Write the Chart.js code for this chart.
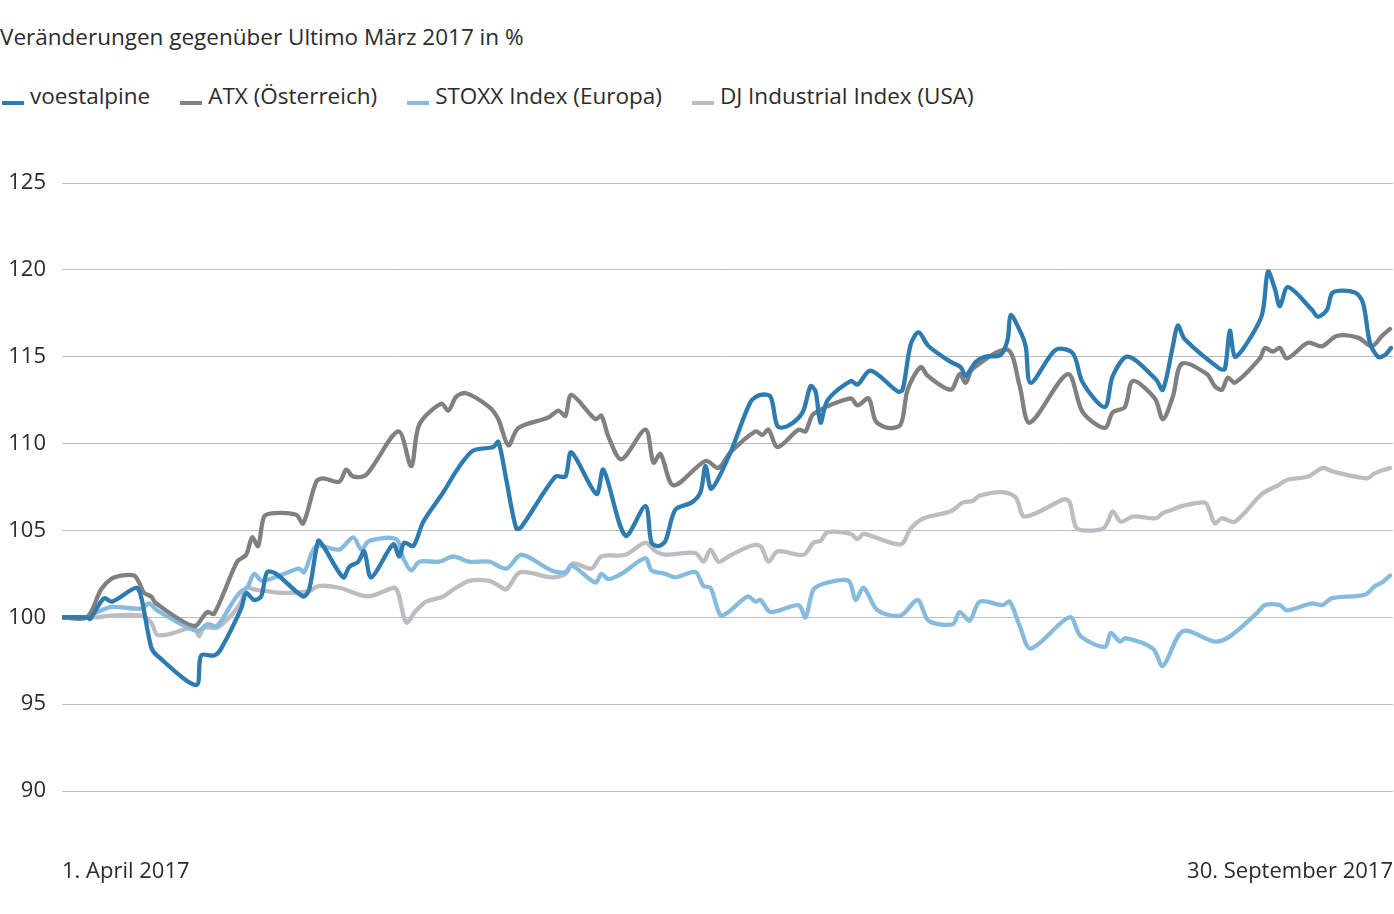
<!DOCTYPE html>
<html lang="de">
<head>
<meta charset="utf-8">
<script src="https://cdn.jsdelivr.net/npm/chart.js@4.4.1/dist/chart.umd.min.js"></script>
<style>
  html, body { margin: 0; padding: 0; background: #fff; }
  #wrap { position: relative; width: 1394px; height: 914px; overflow: hidden; font-family: "Open Sans", "Noto Sans", sans-serif; color: #2b2b2b; }
  #title { position: absolute; left: 0; top: 22px; font-size: 22.5px; line-height: 30px; white-space: nowrap; }
  #legend { position: absolute; left: 2px; top: 81px; display: flex; gap: 30px; font-size: 22.5px; line-height: 30px; white-space: nowrap; }
  .item { display: flex; align-items: flex-end; }
  .mark { display: inline-block; width: 22px; height: 4px; margin-right: 6px; margin-bottom: 6px; }
  canvas { position: absolute; left: 0; top: 0; }
</style>
</head>
<body>
<div id="wrap">
  <div id="title"></div>
  <div id="legend"></div>
  <canvas id="c" width="1394" height="914"></canvas>
</div>
<script>
// ---- Data (x = trading-day index, 0 = 1. April 2017, 133 = 30. September 2017) ----
const titleText = "Veränderungen gegenüber Ultimo März 2017 in %";
const seriesNames = ["voestalpine", "ATX (Österreich)", "STOXX Index (Europa)", "DJ Industrial Index (USA)"];
const seriesColors = ["#2e7bb0", "#808083", "#86bbde", "#bdbdc1"];
const xTickLabels = ["1. April 2017", "30. September 2017"];
const yTicks = [90, 95, 100, 105, 110, 115, 120, 125];

const voestDay = [0,2.5,2.8,4.2,5.0,7.4,7.9,8.9,9.5,13.4,13.9,15.2,15.9,17.9,18.4,19.2,19.9,20.5,21.4,24.1,24.7,25.6,26.1,28.1,28.7,29.6,30.2,30.9,33.1,33.7,34.2,35.1,36.1,38.1,39.6,41.1,43.1,43.6,44.4,45.4,45.9,49.3,50.3,50.9,53.4,54.1,56.3,58.3,58.9,59.6,60.3,61.3,62.9,63.8,64.3,64.9,66.8,68.8,69.8,70.8,71.5,72.5,74.0,74.8,75.3,75.8,76.5,78.8,79.5,80.8,83.5,84.0,84.8,85.6,86.6,88.8,89.8,90.3,91.3,92.2,93.8,94.5,94.8,95.8,96.3,96.8,99.3,101.0,102.0,104.2,105.0,106.5,109.3,110.0,111.0,111.5,112.2,115.7,116.2,116.7,117.2,118.2,119.9,120.5,121.2,121.7,122.5,124.9,125.5,126.4,127.0,129.2,130.0,130.7,131.5,132.2,132.8];
const voestValue = [100.0,100.0,99.9,101.1,100.9,101.7,101.2,98.3,97.8,96.1,97.8,97.8,98.2,100.5,101.4,101.0,101.2,102.6,102.5,101.2,101.6,104.4,104.1,102.3,102.9,103.2,103.8,102.3,104.2,103.5,104.3,104.1,105.5,107.2,108.6,109.6,109.8,110.1,107.9,105.1,105.2,108.1,108.1,109.5,107.1,108.5,104.7,106.4,104.3,104.1,104.4,106.2,106.6,107.2,108.7,107.4,109.5,112.4,112.8,112.7,111.0,111.0,111.8,113.3,113.0,111.2,112.5,113.6,113.4,114.2,113.0,113.1,115.7,116.4,115.6,114.7,114.4,113.9,114.7,115.0,115.1,116.0,117.4,116.4,115.6,113.5,115.4,115.2,113.5,112.1,113.9,115.0,113.7,113.1,115.6,116.8,116.0,114.3,114.3,116.5,115.0,115.6,117.4,119.9,118.9,117.9,119.0,117.7,117.3,117.7,118.7,118.7,118.1,115.8,115.0,115.1,115.5];

const atxDay = [0,2.5,3.9,4.9,5.9,7.2,7.7,8.2,8.9,9.4,13.2,14.5,15.2,17.5,18.4,19.0,19.6,20.2,21.2,23.4,24.1,25.4,26.1,27.7,28.4,29.1,30.4,33.6,34.9,35.7,37.9,38.6,39.4,40.4,42.7,43.6,44.6,45.6,48.6,49.6,50.3,50.9,53.3,53.9,54.6,55.9,58.3,59.1,59.8,61.1,64.3,65.6,66.8,69.3,70.0,70.6,71.5,73.6,74.3,75.1,78.8,79.5,80.6,81.3,82.5,83.8,84.5,85.8,86.5,88.8,89.7,90.3,91.0,94.5,95.7,96.7,100.5,102.0,104.2,105.0,106.2,107.0,109.2,110.0,111.0,111.9,114.4,115.2,115.9,116.5,117.2,119.7,120.2,121.0,121.7,122.4,124.5,125.9,127.4,129.5,130.9,131.9,132.7];
const atxValue = [100.0,100.0,101.6,102.2,102.4,102.4,102.0,101.4,101.2,100.8,99.5,100.3,100.2,103.2,103.6,104.6,104.1,105.8,106.0,105.9,105.4,107.8,108.0,107.8,108.5,108.1,108.2,110.7,108.7,111.1,112.3,111.9,112.7,112.9,112.1,111.4,109.9,110.9,111.5,111.9,111.6,112.8,111.4,111.6,110.4,109.1,110.8,108.9,109.4,107.6,109.0,108.6,109.5,110.7,110.5,110.8,109.8,110.8,110.7,111.7,112.6,112.2,112.6,111.3,110.9,111.1,113.1,114.4,113.9,113.1,114.0,113.5,114.3,115.4,113.3,111.2,114.0,111.8,110.9,111.8,112.1,113.6,112.6,111.4,112.7,114.6,114.0,113.3,113.1,113.8,113.5,114.9,115.5,115.3,115.5,114.9,115.8,115.6,116.2,116.1,115.6,116.2,116.6];

const stoxxDay = [0,2.4,3.5,5.0,7.9,8.7,9.5,13.5,14.5,15.5,17.2,17.9,18.5,19.2,20.0,22.2,23.7,24.2,25.4,27.7,29.1,29.9,30.7,33.4,34.1,34.9,35.7,37.7,39.1,40.7,42.7,44.4,45.9,48.9,50.3,50.9,53.3,53.9,54.6,55.9,58.3,58.9,60.3,61.3,63.3,64.1,64.8,65.8,66.6,68.5,69.3,69.8,70.8,73.6,74.3,75.1,76.5,78.6,79.3,80.1,81.5,83.8,85.5,86.6,89.0,89.7,90.7,91.7,94.0,94.7,95.7,96.8,100.7,101.8,104.2,104.8,105.7,106.3,109.0,110.0,112.0,115.2,116.7,119.5,120.2,121.7,122.4,124.9,125.9,126.9,130.2,131.2,131.9,132.7];
const stoxxValue = [100.0,100.0,100.3,100.6,100.5,100.8,100.4,99.2,99.6,99.5,101.0,101.5,101.7,102.5,102.1,102.5,102.8,102.6,104.1,103.9,104.6,103.9,104.4,104.5,103.4,102.7,103.2,103.2,103.5,103.2,103.2,102.8,103.6,102.7,102.6,103.0,102.0,102.5,102.2,102.5,103.4,102.7,102.5,102.3,102.6,101.8,101.7,100.1,100.3,101.2,100.9,101.0,100.3,100.7,100.0,101.6,102.0,102.1,101.0,101.7,100.4,100.1,101.0,99.8,99.6,100.3,99.8,100.9,100.7,100.9,99.5,98.2,100.0,98.9,98.3,99.1,98.6,98.8,98.2,97.2,99.2,98.6,98.9,100.3,100.7,100.7,100.4,100.8,100.7,101.1,101.3,101.8,102.0,102.4];

const djDay = [0,3.5,4.9,7.9,8.9,9.5,10.5,13.2,13.7,14.2,15.5,16.9,17.9,18.4,19.2,20.5,22.2,24.7,25.6,27.7,30.6,33.2,33.6,34.4,35.4,36.4,38.1,39.1,40.7,42.7,43.7,44.4,45.8,48.9,50.3,51.1,52.9,53.9,56.3,58.3,59.3,60.3,63.3,64.1,64.8,65.6,66.6,68.8,69.8,70.6,71.5,74.1,75.1,75.8,76.5,78.8,79.5,80.1,83.8,84.8,86.1,88.8,90.0,91.0,91.7,94.0,95.3,96.2,100.2,100.7,101.3,102.0,104.0,104.5,105.0,105.8,107.0,109.3,110.0,111.0,111.9,114.2,114.7,115.2,115.9,117.2,119.9,121.5,122.4,124.5,126.0,126.9,130.4,131.2,132.7];
const djValue = [100.0,100.0,100.1,100.1,99.7,99.0,99.0,99.4,98.9,99.4,99.4,100.1,100.9,101.7,101.6,101.5,101.4,101.5,101.8,101.7,101.2,101.7,101.4,99.7,100.4,100.9,101.2,101.6,102.1,102.1,101.8,101.6,102.6,102.3,102.5,103.1,102.8,103.5,103.6,104.3,103.8,103.6,103.7,103.2,103.9,103.2,103.5,104.1,104.1,103.2,103.8,103.6,104.3,104.4,104.9,104.8,104.5,104.8,104.2,105.1,105.7,106.1,106.6,106.7,107.0,107.2,106.9,105.8,106.8,106.6,105.2,105.0,105.1,105.5,106.1,105.5,105.8,105.7,106.0,106.2,106.4,106.6,106.1,105.4,105.7,105.5,107.1,107.6,107.9,108.1,108.6,108.4,108.0,108.3,108.6];

const seriesDays = [voestDay, atxDay, stoxxDay, djDay];
const seriesValues = [voestValue, atxValue, stoxxValue, djValue];

// ---- Title & legend (HTML text) ----
document.getElementById('title').textContent = titleText;
const leg = document.getElementById('legend');
seriesNames.forEach((n, i) => {
  const it = document.createElement('div'); it.className = 'item';
  const m = document.createElement('span'); m.className = 'mark'; m.style.background = seriesColors[i];
  const t = document.createElement('span'); t.textContent = n;
  it.appendChild(m); it.appendChild(t); leg.appendChild(it);
});

// ---- Chart ----
const datasets = seriesNames.map((n, i) => ({
  label: n,
  data: seriesDays[i].map((d, k) => ({ x: d, y: seriesValues[i][k] })),
  borderColor: seriesColors[i],
  backgroundColor: seriesColors[i],
  borderWidth: 4.3,
  pointRadius: 0,
  tension: 0.3,
  fill: false,
  borderCapStyle: 'round',
  borderJoinStyle: 'round'
}));

new Chart(document.getElementById('c'), {
  type: 'line',
  data: { datasets },
  options: {
    responsive: false,
    animation: false,
    layout: { padding: { top: 183, right: 1, left: 0, bottom: 0 } },
    plugins: { legend: { display: false }, title: { display: false }, tooltip: { enabled: false } },
    scales: {
      x: {
        type: 'linear', min: 0, max: 133,
        grid: { display: false, drawTicks: false },
        border: { display: false },
        afterBuildTicks: (s) => { s.ticks = [{ value: 0 }, { value: 133 }]; },
        afterFit: (s) => { s.height = 123; s.paddingLeft = 0; s.paddingRight = 0; },
        ticks: {
          align: 'inner', padding: 68, maxRotation: 0, autoSkip: false,
          color: '#2b2b2b', font: { family: 'Open Sans', size: 22 },
          callback: (v) => v === 0 ? xTickLabels[0] : xTickLabels[1]
        }
      },
      y: {
        min: 90, max: 125,
        afterBuildTicks: (s) => { s.ticks = yTicks.map(v => ({ value: v })); },
        afterFit: (s) => { s.width = 62; s.paddingTop = 0; s.paddingBottom = 0; },
        grid: { color: '#bdbdbd', lineWidth: 1, drawTicks: false },
        border: { display: false },
        ticks: { padding: 16, color: '#2b2b2b', font: { family: 'Open Sans', size: 22 } }
      }
    }
  }
});
</script>
</body>
</html>
